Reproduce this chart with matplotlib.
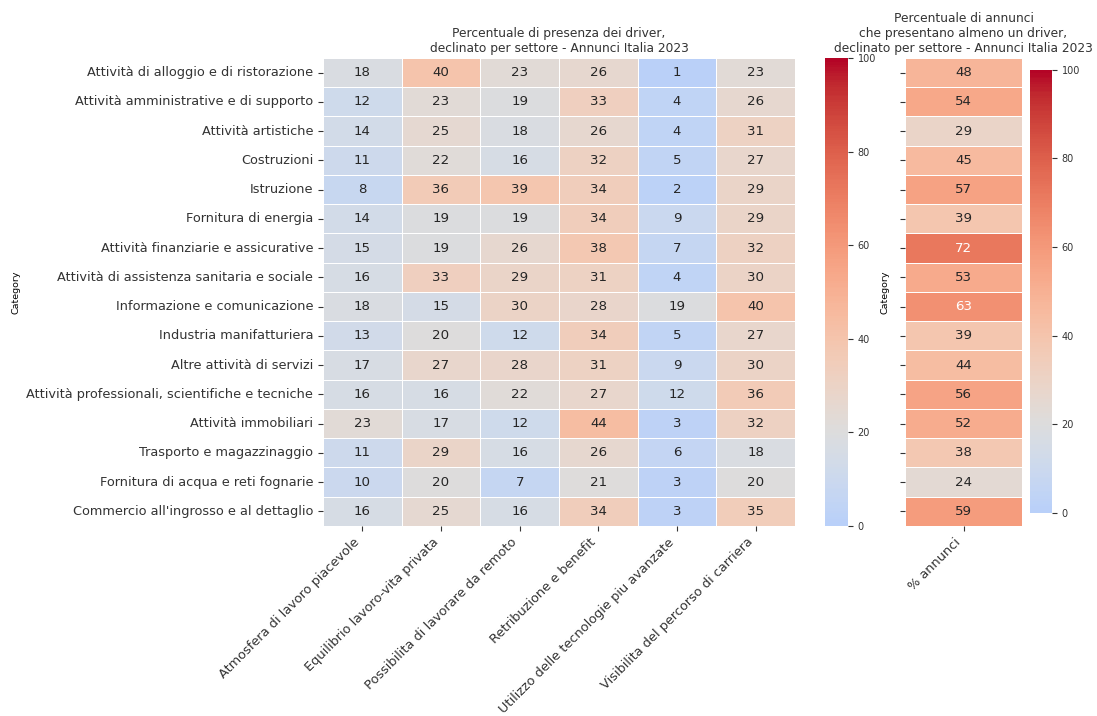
import numpy as np
import pandas as pd
import matplotlib
matplotlib.use("Agg")
import matplotlib.pyplot as plt
import seaborn as sns

# settori (righe) e driver (colonne)
settori = [
    "Attività di alloggio e di ristorazione",
    "Attività amministrative e di supporto",
    "Attività artistiche",
    "Costruzioni",
    "Istruzione",
    "Fornitura di energia",
    "Attività finanziarie e assicurative",
    "Attività di assistenza sanitaria e sociale",
    "Informazione e comunicazione",
    "Industria manifatturiera",
    "Altre attività di servizi",
    "Attività professionali, scientifiche e tecniche",
    "Attività immobiliari",
    "Trasporto e magazzinaggio",
    "Fornitura di acqua e reti fognarie",
    "Commercio all'ingrosso e al dettaglio",
]
driver = [
    "Atmosfera di lavoro piacevole",
    "Equilibrio lavoro-vita privata",
    "Possibilita di lavorare da remoto",
    "Retribuzione e benefit",
    "Utilizzo delle tecnologie piu avanzate",
    "Visibilita del percorso di carriera",
]
atmosfera = [18, 12, 14, 11, 8, 14, 15, 16, 18, 13, 17, 16, 23, 11, 10, 16]
equilibrio = [40, 23, 25, 22, 36, 19, 19, 33, 15, 20, 27, 16, 17, 29, 20, 25]
remoto = [23, 19, 18, 16, 39, 19, 26, 29, 30, 12, 28, 22, 12, 16, 7, 16]
retribuzione = [26, 33, 26, 32, 34, 34, 38, 31, 28, 34, 31, 27, 44, 26, 21, 34]
tecnologie = [1, 4, 4, 5, 2, 9, 7, 4, 19, 5, 9, 12, 3, 6, 3, 3]
carriera = [23, 26, 31, 27, 29, 29, 32, 30, 40, 27, 30, 36, 32, 18, 20, 35]
perc_annunci = [48, 54, 29, 45, 57, 39, 72, 53, 63, 39, 44, 56, 52, 38, 24, 59]

df = pd.DataFrame(
    dict(zip(driver, [atmosfera, equilibrio, remoto, retribuzione, tecnologie, carriera])),
    index=pd.Index(settori, name="Category"),
)
df2 = pd.DataFrame({"% annunci": perc_annunci}, index=pd.Index(settori, name="Category"))

plt.rcParams["font.family"] = ["DejaVu Sans"]
plt.rcParams["text.color"] = "#333333"
plt.rcParams["xtick.color"] = "#333333"
plt.rcParams["ytick.color"] = "#333333"
fs = 9.3

fig = plt.figure(figsize=(10.97, 7.16), dpi=100)
ax1 = fig.add_axes([0.2944, 0.2654, 0.4303, 0.6536])
cax1 = fig.add_axes([0.752, 0.2654, 0.021, 0.6536])
ax2 = fig.add_axes([0.825, 0.2654, 0.1067, 0.6536])
cax2 = fig.add_axes([0.939, 0.2835, 0.020, 0.619])

sns.heatmap(df, ax=ax1, cbar_ax=cax1, cmap="coolwarm", center=20, vmin=0, vmax=100,
            annot=True, fmt="d", linewidths=0.5, linecolor="white",
            annot_kws={"fontsize": 9.6})
ax1.set_title("Percentuale di presenza dei driver,\ndeclinato per settore - Annunci Italia 2023",
              fontsize=8.8, pad=4)
ax1.set_xticklabels(ax1.get_xticklabels(), rotation=45, ha="right", fontsize=fs)
ax1.set_yticklabels(ax1.get_yticklabels(), rotation=0, fontsize=fs)
ax1.set_ylabel("Category", fontsize=6.8)
ax1.yaxis.set_label_coords(-0.64, 0.5)
ax1.set_xlabel("")

sns.heatmap(df2, ax=ax2, cbar_ax=cax2, cmap="coolwarm", center=20, vmin=0, vmax=100,
            annot=True, fmt="d", linewidths=0.5, linecolor="white",
            annot_kws={"fontsize": 9.6})
ax2.set_title("Percentuale di annunci\nche presentano almeno un driver,\ndeclinato per settore - Annunci Italia 2023",
              fontsize=8.8, pad=4)
ax2.set_yticklabels([""] * len(settori))
ax2.set_xticklabels(ax2.get_xticklabels(), rotation=45, ha="right", fontsize=fs)
ax2.set_ylabel("Category", fontsize=6.8)
ax2.set_xlabel("")

for cax in (cax1, cax2):
    cax.tick_params(labelsize=7)

fig.savefig("out.png", dpi=100)
